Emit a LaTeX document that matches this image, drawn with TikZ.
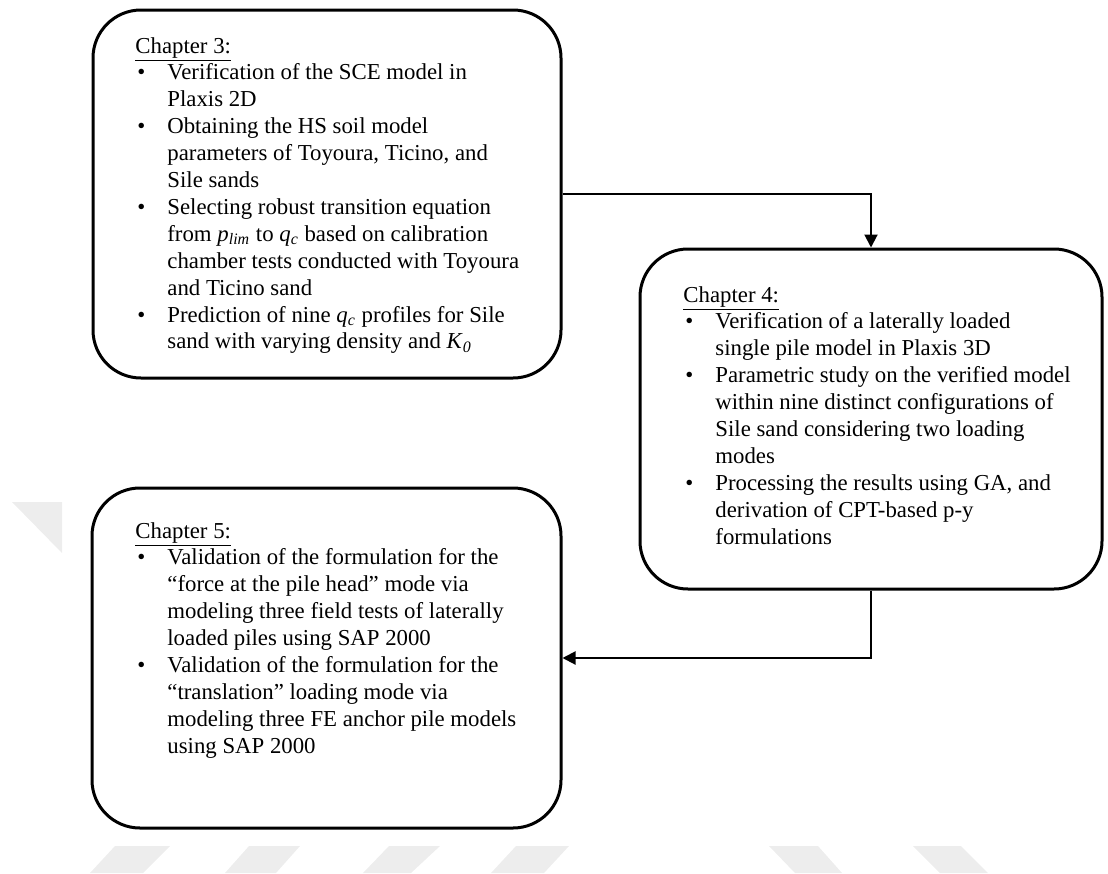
\documentclass[tikz,border=0pt]{standalone}
\usepackage{fontspec}
\setmainfont{Liberation Serif}
\usetikzlibrary{arrows.meta}

% bullet line with hanging indent
\newcommand{\bitem}{\par\noindent\hangindent=16pt\hangafter=1\hbox to 16pt{\hskip1pt\textbullet\hfil}}

\begin{document}
\begin{tikzpicture}[x=0.5pt, y=-0.5pt,
  chapbox/.style={draw, line width=1.5pt, rounded corners=24pt, inner sep=0pt},
  chaptext/.style={anchor=base west, inner sep=0pt, font=\fontsize{11.4}{13.45}\selectfont},
  flow/.style={line width=1pt, -{Triangle[length=6.5pt, width=6.5pt]}},
  wmark/.style={fill=black!7}]

% Page size
\useasboundingbox (0,0) rectangle (1108,873);

% Faint marks in the background
\fill[wmark] (12,502) -- (62,502) -- (62,553) -- cycle;
\foreach \a/\b/\c/\d in {115/170/143/90, 249/300/276/225, 389/440/411/363,
                         516/569/544/491, 769/818/842/795, 913/961/988/940}
  \fill[wmark] (\a,846) -- (\b,846) -- (\c,873) -- (\d,873) -- cycle;

% Chapter boxes
\node[chapbox, minimum width=234pt, minimum height=184pt] (ch3) at (327,194) {};
\node[chapbox, minimum width=231pt, minimum height=170pt] (ch4) at (871,419) {};
\node[chapbox, minimum width=234.5pt, minimum height=170pt] (ch5) at (326.5,658) {};

% Chapter 3 text
\node[chaptext] (ch3txt) at (135,53) {\begin{minipage}[t]{205pt}
\underline{Chapter 3:}
\bitem Verification of the SCE model in\newline Plaxis 2D
\bitem Obtaining the HS soil model\newline parameters of Toyoura, Ticino, and\newline Sile sands
\bitem Selecting robust transition equation\newline from \textit{p}\textsubscript{\textit{lim}} to \textit{q}\textsubscript{\textit{c}} based on calibration\newline chamber tests conducted with Toyoura\newline and Ticino sand
\bitem Prediction of nine \textit{q}\textsubscript{\textit{c}} profiles for Sile\newline sand with varying density and \textit{K}\textsubscript{\textit{0}}
\end{minipage}};

% Chapter 4 text
\node[chaptext] (ch4txt) at (683,302) {\begin{minipage}[t]{205pt}
\underline{Chapter 4:}
\bitem Verification of a laterally loaded\newline single pile model in Plaxis 3D
\bitem Parametric study on the verified model\newline within nine distinct configurations of\newline Sile sand considering two loading\newline modes
\bitem Processing the results using GA, and\newline derivation of CPT-based p-y\newline formulations
\end{minipage}};

% Chapter 5 text
\node[chaptext] (ch5txt) at (135,538) {\begin{minipage}[t]{205pt}
\underline{Chapter 5:}
\bitem Validation of the formulation for the\newline “force at the pile head” mode via\newline modeling three field tests of laterally\newline loaded piles using SAP 2000
\bitem Validation of the formulation for the\newline “translation” loading mode via\newline modeling three FE anchor pile models\newline using SAP 2000
\end{minipage}};

% Connectors
\draw[flow] (ch3.east) -| (ch4.north);
\draw[flow] (ch4.south) |- (ch5.east);

\end{tikzpicture}
\end{document}
